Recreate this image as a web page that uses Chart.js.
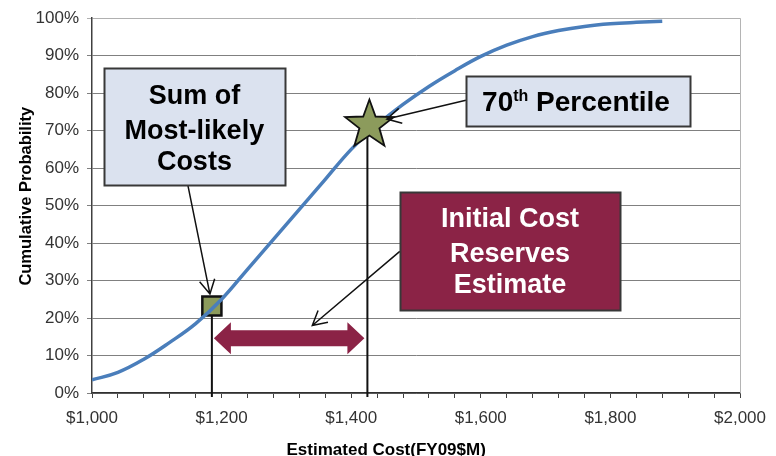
<!DOCTYPE html>
<html>
<head>
<meta charset="utf-8">
<title>Cumulative Probability</title>
<script src="https://cdn.jsdelivr.net/npm/chart.js@4.4.1/dist/chart.umd.min.js"></script>
<style>
  html, body { margin: 0; padding: 0; background: #fff; }
  #wrap { width: 776px; height: 456px; position: relative; }
</style>
</head>
<body>
<div id="wrap"><canvas id="cdf"></canvas></div>
<script>
// S-curve of total cost (FY09 $M) against cumulative probability (%)
const costs   = [1000, 1040, 1080, 1120, 1160, 1200, 1240, 1280, 1320, 1360, 1400, 1440,
                 1480, 1520, 1560, 1600, 1640, 1680, 1720, 1760, 1800, 1840, 1880];
const cumProb = [3.5, 5.5, 9, 13.5, 18.5, 25, 33, 41, 49, 57, 65, 71.5,
                 77, 81.8, 86, 89.8, 92.8, 95.1, 96.7, 97.8, 98.5, 98.9, 99.2];

// sum of most-likely costs and the 70th percentile point
const mostLikelyCost = [1185];
const mostLikelyProb = [23.2];
const pctlCost = [1425];
const pctlProb = [71.5];

const xMin = 1000, xMax = 2000, xStep = 40, xLabelEvery = 200;
const yMin = 0, yMax = 100, yStep = 10;

const FONT = '"Liberation Sans", Arial, sans-serif';
const MAROON = '#8b2346';
const OLIVE = '#8c9b5c';
const BOX_BLUE = '#dbe2ef';

function arrowLine(ctx, x1, y1, x2, y2) {
  const a = Math.atan2(y2 - y1, x2 - x1), len = 16, spread = 0.5;
  ctx.beginPath();
  ctx.moveTo(x1, y1);
  ctx.lineTo(x2, y2);
  ctx.moveTo(x2 - len * Math.cos(a - spread), y2 - len * Math.sin(a - spread));
  ctx.lineTo(x2, y2);
  ctx.lineTo(x2 - len * Math.cos(a + spread), y2 - len * Math.sin(a + spread));
  ctx.stroke();
}

function starPath(ctx, cx, cy, outer, inner) {
  ctx.beginPath();
  for (let i = 0; i < 10; i++) {
    const r = i % 2 ? inner : outer;
    const a = -Math.PI / 2 + i * Math.PI / 5;
    ctx.lineTo(cx + r * Math.cos(a), cy + r * Math.sin(a));
  }
  ctx.closePath();
}

function textBox(ctx, box, fill, lines, color) {
  const x0 = Math.round(box.l) + 0.5, y0 = Math.round(box.t) + 0.5;
  const w = Math.round(box.r - box.l), h = Math.round(box.b - box.t);
  ctx.fillStyle = fill;
  ctx.fillRect(x0, y0, w, h);
  ctx.strokeStyle = '#383838';
  ctx.lineWidth = 2;
  ctx.strokeRect(x0, y0, w, h);
  ctx.fillStyle = color;
  ctx.font = 'bold 27px ' + FONT;
  ctx.textAlign = 'center';
  ctx.textBaseline = 'alphabetic';
  lines.forEach(([text, dy]) => ctx.fillText(text, (box.l + box.r) / 2, box.t + dy));
}

const overlays = {
  id: 'overlays',
  beforeDatasetsDraw(chart) {
    const { ctx, chartArea, scales: { x, y } } = chart;
    ctx.save();
    // light frame line on the right edge
    ctx.strokeStyle = '#b4b4b4';
    ctx.lineWidth = 1;
    ctx.beginPath();
    ctx.moveTo(chartArea.right + 0.5, chartArea.top);
    ctx.lineTo(chartArea.right + 0.5, chartArea.bottom);
    ctx.stroke();

    // drop lines from the two points down past the cost axis
    ctx.strokeStyle = '#111';
    ctx.lineWidth = 2;
    ctx.beginPath();
    ctx.moveTo(x.getPixelForValue(mostLikelyCost[0]), y.getPixelForValue(mostLikelyProb[0]));
    ctx.lineTo(x.getPixelForValue(mostLikelyCost[0]), chartArea.bottom + 4);
    ctx.moveTo(x.getPixelForValue(pctlCost[0]), y.getPixelForValue(pctlProb[0]));
    ctx.lineTo(x.getPixelForValue(pctlCost[0]), chartArea.bottom + 4);
    ctx.stroke();
    ctx.restore();
  },
  afterDatasetsDraw(chart) {
    const { ctx, scales: { x, y } } = chart;
    const px = v => x.getPixelForValue(v);
    const py = v => y.getPixelForValue(v);
    ctx.save();

    // reserve range: double-headed arrow between the two costs
    const ax1 = px(mostLikelyCost[0]) + 2, ax2 = px(pctlCost[0]) - 3, ay = py(14.6);
    const head = 17, hh = 16, sh = 8;
    ctx.fillStyle = MAROON;
    ctx.beginPath();
    ctx.moveTo(ax1, ay);
    ctx.lineTo(ax1 + head, ay - hh);
    ctx.lineTo(ax1 + head, ay - sh);
    ctx.lineTo(ax2 - head, ay - sh);
    ctx.lineTo(ax2 - head, ay - hh);
    ctx.lineTo(ax2, ay);
    ctx.lineTo(ax2 - head, ay + hh);
    ctx.lineTo(ax2 - head, ay + sh);
    ctx.lineTo(ax1 + head, ay + sh);
    ctx.lineTo(ax1 + head, ay + hh);
    ctx.closePath();
    ctx.fill();

    // 70th percentile star
    starPath(ctx, px(pctlCost[0]) + 2, py(pctlProb[0]), 25.5, 10.5);
    ctx.fillStyle = OLIVE;
    ctx.fill();
    ctx.strokeStyle = '#111';
    ctx.lineWidth = 1.8;
    ctx.stroke();

    // callout boxes
    const sumBox = { l: px(1018), r: px(1298), t: py(86.6), b: py(55.4) };
    const pctBox = { l: px(1577), r: px(1923), t: py(84.7), b: py(71.3) };
    const resBox = { l: px(1475), r: px(1815), t: py(53.6), b: py(22.2) };

    ctx.strokeStyle = '#111';
    ctx.lineWidth = 1.5;
    arrowLine(ctx, px(1148), sumBox.b, px(1182), py(26.4));
    arrowLine(ctx, pctBox.l, py(78.1), px(1455), py(73.1));
    arrowLine(ctx, resBox.l, py(37.8), px(1340), py(18.0));

    textBox(ctx, sumBox, BOX_BLUE, [['Sum of', 35.5], ['Most-likely', 70.5], ['Costs', 102]], '#000');
    textBox(ctx, resBox, MAROON, [['Initial Cost', 35], ['Reserves', 69.5], ['Estimate', 101]], '#fff');
    textBox(ctx, pctBox, BOX_BLUE, [], '#000');

    // "70th Percentile" with raised ordinal
    const big = 'bold 28px ' + FONT, small = 'bold 16px ' + FONT;
    ctx.fillStyle = '#000';
    ctx.textAlign = 'left';
    ctx.font = big;
    const w1 = ctx.measureText('70').width, w3 = ctx.measureText(' Percentile').width;
    ctx.font = small;
    const w2 = ctx.measureText('th').width;
    const tx = (pctBox.l + pctBox.r) / 2 - 2 - (w1 + w2 + w3) / 2;
    const base = pctBox.t + 35;
    ctx.font = big;
    ctx.fillText('70', tx, base);
    ctx.font = small;
    ctx.fillText('th', tx + w1, base - 10);
    ctx.font = big;
    ctx.fillText(' Percentile', tx + w1 + w2, base);

    ctx.restore();
  },
  afterDraw(chart) {
    const { ctx, scales: { x, y } } = chart;
    ctx.save();
    ctx.fillStyle = '#000';
    ctx.textAlign = 'center';
    ctx.textBaseline = 'alphabetic';
    ctx.font = 'bold 17px ' + FONT;
    ctx.fillText('Estimated Cost(FY09$M)', x.getPixelForValue(1454), 455);
    // axis title for probability, rotated
    ctx.translate(31, y.getPixelForValue(52.5));
    ctx.rotate(-Math.PI / 2);
    ctx.font = 'bold 16.5px ' + FONT;
    ctx.fillText('Cumulative Probability', 0, 0);
    ctx.restore();
  }
};

new Chart(document.getElementById('cdf'), {
  type: 'line',
  data: {
    datasets: [{
      label: 'Cumulative Probability',
      data: costs.map((c, i) => ({ x: c, y: cumProb[i] })),
      borderColor: '#4a7ebb',
      borderWidth: 3.5,
      pointRadius: 0,
      tension: 0.4,
      fill: false
    }, {
      label: 'Sum of Most-likely Costs',
      data: mostLikelyCost.map((c, i) => ({ x: c, y: mostLikelyProb[i] })),
      showLine: false,
      pointStyle: 'rect',
      pointRadius: 13.5,
      pointBackgroundColor: OLIVE,
      pointBorderColor: '#111',
      pointBorderWidth: 2.5
    }]
  },
  options: {
    responsive: true,
    maintainAspectRatio: false,
    animation: false,
    events: [],
    layout: { padding: { top: 14, right: 34, left: 0, bottom: 0 } },
    plugins: { legend: { display: false }, tooltip: { enabled: false } },
    scales: {
      x: {
        type: 'linear',
        min: xMin,
        max: xMax,
        afterFit: s => { s.height = 63; },
        border: { color: '#303030', width: 1.5 },
        grid: { drawOnChartArea: false, drawTicks: true, tickLength: 5, color: '#404040' },
        ticks: {
          stepSize: xStep,
          autoSkip: false,
          maxRotation: 0,
          padding: 10,
          color: '#333',
          font: { family: FONT, size: 17 },
          callback: v => v % xLabelEvery === 0 ? '$' + v.toLocaleString('en-US') : ''
        }
      },
      y: {
        min: yMin,
        max: yMax,
        afterFit: s => { s.width = 92; },
        border: { color: '#404040', width: 1.5 },
        grid: {
          tickLength: 5,
          color: c => c.tick && c.tick.value === yMax ? '#b0b0b0' : '#808080'
        },
        ticks: {
          stepSize: yStep,
          padding: 8,
          color: '#333',
          font: { family: FONT, size: 17 },
          callback: v => v + '%'
        }
      }
    }
  },
  plugins: [overlays]
});
</script>
</body>
</html>
